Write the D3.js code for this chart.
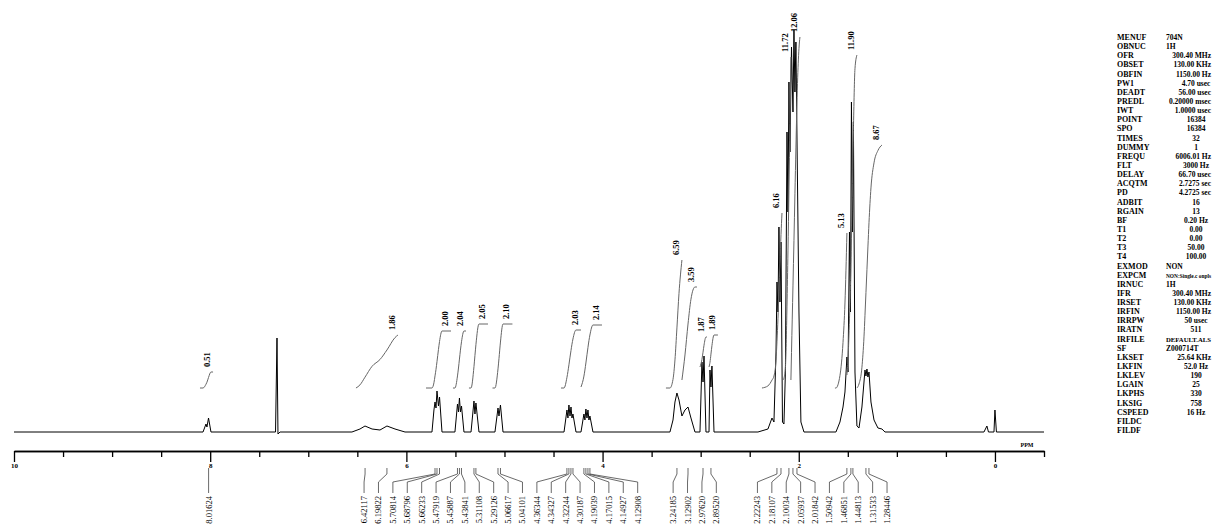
<!DOCTYPE html>
<html>
<head>
<meta charset="utf-8">
<script src="https://cdn.jsdelivr.net/npm/d3@7"></script>
<style>
  body { margin: 0; background: #fff; }
  svg { display: block; font-family: "Liberation Serif", "DejaVu Serif", serif; }
</style>
</head>
<body>
<div id="nmr"></div>
<script>
// spectrum: [ppm, intensity]
var spectrum = [
  [10.000,0],[8.073,0],[8.043,8],[8.033,5],[8.017,14],[7.992,0],
  [7.334,0],[7.319,94],[7.309,-2],[7.288,0],
  [6.555,0],[6.473,3],[6.422,6],[6.350,3],[6.269,2],[6.198,6],[6.116,3],[6.014,0],
  [5.739,0],[5.719,22],[5.708,30],[5.698,24],[5.688,41],[5.673,26],[5.662,35],[5.637,0],
  [5.505,0],[5.479,28],[5.469,20],[5.459,34],[5.449,20],[5.438,26],[5.413,0],
  [5.341,0],[5.311,31],[5.301,18],[5.291,29],[5.260,0],
  [5.097,0],[5.066,24],[5.056,16],[5.041,27],[5.015,0],
  [4.393,0],[4.363,22],[4.353,14],[4.343,27],[4.332,16],[4.322,25],[4.312,14],[4.302,18],[4.271,0],
  [4.220,0],[4.190,18],[4.180,12],[4.170,23],[4.159,14],[4.149,22],[4.139,12],[4.129,16],[4.098,0],
  [3.313,0],[3.282,12],[3.262,30],[3.242,39],[3.221,32],[3.191,16],[3.160,22],[3.129,25],[3.099,14],[3.058,0],
  [3.007,0],[2.987,70],[2.976,50],[2.966,76],[2.946,0],
  [2.915,0],[2.905,62],[2.895,45],[2.885,66],[2.864,0],
  [2.416,0],[2.314,3],[2.273,14],[2.253,10],[2.232,80],[2.222,150],[2.212,120],[2.202,205],[2.192,130],[2.181,190],[2.166,10],
  [2.151,8],[2.136,60],[2.120,300],[2.110,220],[2.100,350],[2.090,280],[2.074,385],[2.059,320],[2.049,402],[2.039,340],
  [2.029,390],[2.013,250],[1.998,120],[1.978,10],[1.947,0],
  [1.621,0],[1.580,10],[1.549,25],[1.529,40],[1.509,75],[1.498,60],[1.483,200],[1.473,120],[1.463,330],[1.453,200],
  [1.443,310],[1.427,60],[1.407,6],[1.386,4],
  [1.356,25],[1.335,50],[1.325,62],[1.315,56],[1.305,63],[1.295,55],[1.284,60],[1.264,30],[1.233,12],[1.193,4],[1.152,3],[1.121,0],
  [0.112,0],[0.082,6],[0.066,0],[0.010,0],[0.000,22],[-0.015,0],[-0.500,0]
];

// peak picking list (ppm)
var peakList = [
  8.01624,
  6.42117, 6.19822, 5.70814, 5.68796, 5.66233, 5.47919, 5.45887, 5.43841, 5.31108, 5.29126, 5.06617, 5.04101,
  4.36344, 4.34327, 4.32244, 4.30187,
  4.19039, 4.17015, 4.14927, 4.12908,
  3.24185, 3.12902, 2.97620, 2.89520,
  2.22243, 2.18107, 2.10034, 2.05937, 2.01842,
  1.50942, 1.46851, 1.44813, 1.31533, 1.28446
];

// integrals: ppm range, start / end level, value
var integralRanges = [
  [8.104, 7.971], [6.514, 6.086], [5.800, 5.545], [5.525, 5.392], [5.362, 5.168], [5.122, 4.919],
  [4.424, 4.220], [4.220, 4.006], [3.354, 3.191], [3.191, 3.038], [3.007, 2.936], [2.915, 2.824],
  [2.375, 2.171], [2.161, 2.080], [2.080, 1.988], [1.631, 1.509], [1.509, 1.407], [1.407, 1.152]
];
var integralLevels = [
  [44, 60], [44, 97], [44, 101], [44, 101], [44, 108], [44, 108],
  [44, 102], [45, 107], [44, 172], [52, 145], [65, 95], [65, 97],
  [44, 219], [52, 375], [52, 395], [44, 199], [57, 377], [44, 287]
];
var integralValues = ['0.51', '1.86', '2.00', '2.04', '2.05', '2.10', '2.03', '2.14', '6.59', '3.59',
  '1.87', '1.89', '6.16', '11.72', '12.06', '5.13', '11.90', '8.67'];

var majorTicks = [10, 8, 6, 4, 2, 0];
var minorTicks = [9.5, 9, 8.5, 7.5, 7, 6.5, 5.5, 5, 4.5, 3.5, 3, 2.5, 1.5, 1, 0.5, -0.5];

var paramNames = ['MENUF', 'OBNUC', 'OFR', 'OBSET', 'OBFIN', 'PW1', 'DEADT', 'PREDL', 'IWT', 'POINT',
  'SPO', 'TIMES', 'DUMMY', 'FREQU', 'FLT', 'DELAY', 'ACQTM', 'PD', 'ADBIT', 'RGAIN',
  'BF', 'T1', 'T2', 'T3', 'T4', 'EXMOD', 'EXPCM', 'IRNUC', 'IFR', 'IRSET',
  'IRFIN', 'IRRPW', 'IRATN', 'IRFILE', 'SF', 'LKSET', 'LKFIN', 'LKLEV', 'LGAIN', 'LKPHS',
  'LKSIG', 'CSPEED', 'FILDC', 'FILDF'];
var paramValues = ['704N', '1H', '300.40 MHz', '130.00 KHz', '1150.00 Hz', '4.70 usec', '56.00 usec', '0.20000 msec', '1.0000 usec', '16384',
  '16384', '32', '1', '6006.01 Hz', '3000 Hz', '66.70 usec', '2.7275 sec', '4.2725 sec', '16', '13',
  '0.20 Hz', '0.00', '0.00', '50.00', '100.00', 'NON', 'NON:Single.c onpls', '1H', '300.40 MHz', '130.00 KHz',
  '1150.00 Hz', '50 usec', '511', 'DEFAULT.ALS', 'Z000714T', '25.64 KHz', '52.0 Hz', '190', '25', '330',
  '758', '16 Hz', '', ''];

var width = 1214,
    height = 529;

var x = d3.scaleLinear().domain([10, -0.5]).range([14, 1044]);
var y = d3.scaleLinear().domain([0, 400]).range([432, 32]);

var svg = d3.select('#nmr').append('svg')
  .attr('width', width)
  .attr('height', height);

// spectrum trace
svg.append('path')
  .datum(spectrum)
  .attr('d', d3.line().x(function(d) { return x(d[0]); }).y(function(d) { return y(d[1]); }))
  .attr('fill', 'none')
  .attr('stroke', '#000')
  .attr('stroke-width', 1);

function intensityAt(p) {
  for (var i = 1; i < spectrum.length; i++) {
    var a = spectrum[i - 1], b = spectrum[i];
    if (p <= a[0] && p >= b[0]) {
      var t = (a[0] - p) / (a[0] - b[0]);
      return a[1] + t * (b[1] - a[1]);
    }
  }
  return 0;
}

// integral curves (running sum of the trace over each range)
var integralLine = d3.line()
  .x(function(d) { return x(d[0]); })
  .y(function(d) { return y(d[1]); })
  .curve(d3.curveMonotoneX);

integralRanges.forEach(function(r, i) {
  var pts = [[r[0], intensityAt(r[0])]]
    .concat(spectrum.filter(function(d) { return d[0] < r[0] && d[0] > r[1]; }))
    .concat([[r[1], intensityAt(r[1])]]);
  var area = [0];
  for (var k = 1; k < pts.length; k++) {
    area.push(area[k - 1] + (pts[k - 1][0] - pts[k][0]) * (Math.max(0, pts[k - 1][1]) + Math.max(0, pts[k][1])) / 2);
  }
  var total = area[area.length - 1] || 1;
  var lv = integralLevels[i];
  var curve = pts.map(function(d, k) { return [d[0], lv[0] + (lv[1] - lv[0]) * area[k] / total]; });

  svg.append('path')
    .datum(curve)
    .attr('d', integralLine)
    .attr('fill', 'none')
    .attr('stroke', '#666')
    .attr('stroke-width', 1);

  svg.append('text')
    .attr('transform', 'translate(' + (x(r[1]) - 6) + ',' + (y(lv[1]) - 5) + ') rotate(-90)')
    .attr('dy', '0.35em')
    .style('font-size', '8.5px')
    .style('font-weight', 'bold')
    .text(integralValues[i]);
});

// ppm axis
var axisY = 451;
var minorAxis = d3.axisBottom(x).tickValues(minorTicks).tickSize(6).tickSizeOuter(0).tickFormat('');
var majorAxis = d3.axisBottom(x).tickValues(majorTicks).tickSize(11).tickSizeOuter(0).tickPadding(1)
  .tickFormat(d3.format('d'));

var gMinor = svg.append('g').attr('transform', 'translate(0,' + axisY + ')').call(minorAxis);
var gMajor = svg.append('g').attr('transform', 'translate(0,' + axisY + ')').call(majorAxis);
[gMinor, gMajor].forEach(function(g) {
  g.selectAll('path, line').attr('stroke', '#000').attr('stroke-width', 1.3);
  g.selectAll('text').style('font-size', '7px').style('font-weight', 'bold')
    .style('font-family', '"Liberation Serif", serif').attr('fill', '#000');
});

svg.append('text')
  .attr('x', 1027)
  .attr('y', 447)
  .attr('text-anchor', 'middle')
  .style('font-size', '6px')
  .style('font-weight', 'bold')
  .text('PPM');

// peak labels spread below the axis
var gap = 14.4;
var blocks = peakList.map(function(p) { return [x(p)]; });
var merged = true;
while (merged) {
  merged = false;
  for (var b = 1; b < blocks.length; b++) {
    var aEnd = d3.mean(blocks[b - 1]) + (blocks[b - 1].length - 1) * gap / 2;
    var bStart = d3.mean(blocks[b]) - (blocks[b].length - 1) * gap / 2;
    if (bStart - aEnd < gap) {
      blocks[b - 1] = blocks[b - 1].concat(blocks[b]);
      blocks.splice(b, 1);
      merged = true;
      break;
    }
  }
}
var labelX = [];
blocks.forEach(function(bl) {
  var start = d3.mean(bl) - (bl.length - 1) * gap / 2;
  bl.forEach(function(px, j) { labelX.push(start + j * gap); });
});

svg.append('g')
  .selectAll('path').data(peakList)
  .enter().append('path')
    .attr('d', function(p, i) {
      var px = x(p), lx = labelX[i];
      return 'M' + px + ',468 L' + px + ',474 L' + lx + ',482 L' + lx + ',493';
    })
    .attr('fill', 'none')
    .attr('stroke', '#444')
    .attr('stroke-width', 0.8);

svg.append('g')
  .selectAll('text').data(peakList)
  .enter().append('text')
    .attr('transform', function(p, i) { return 'translate(' + labelX[i] + ',496) rotate(-90)'; })
    .attr('dy', '0.35em')
    .attr('text-anchor', 'end')
    .style('font-size', '8.5px')
    .text(function(p) { return d3.format('.5f')(p); });

// acquisition parameters
var rightEdge = 1211;
var params = svg.append('g');
paramNames.forEach(function(name, i) {
  var py = 40 + i * 9.14;
  params.append('text')
    .attr('x', 1117).attr('y', py)
    .style('font-size', '8px').style('font-weight', 'bold')
    .text(name);
  var v = paramValues[i];
  if (!v) return;
  var centred = /^\d[\d.]*( \w+)?$/.test(v);
  var size = 7.5;
  var t = params.append('text')
    .attr('y', py)
    .style('font-size', size + 'px').style('font-weight', 'bold')
    .text(v);
  var len = t.node().getComputedTextLength();
  if (centred) {
    var cx = Math.min(1196, rightEdge - len / 2);
    t.attr('x', cx).attr('text-anchor', 'middle');
  } else {
    t.attr('x', 1166).attr('text-anchor', 'start');
    if (1166 + len > rightEdge) {
      t.style('font-size', (size * (rightEdge - 1166) / len).toFixed(2) + 'px');
    }
  }
});
</script>
</body>
</html>
